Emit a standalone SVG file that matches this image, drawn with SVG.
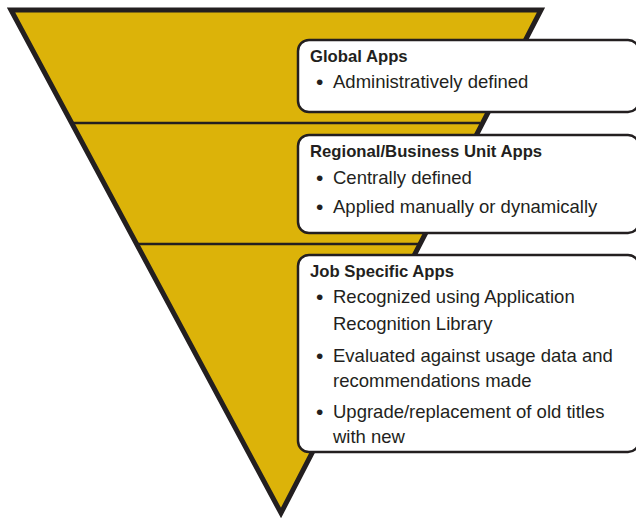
<svg xmlns="http://www.w3.org/2000/svg" width="636" height="519" viewBox="0 0 636 519">
<style>
.tri{fill:#dcb309;stroke:#231f20;stroke-width:5;stroke-linejoin:miter}
.div{stroke:#231f20;stroke-width:2.5}
.box{fill:#fff;stroke:#231f20;stroke-width:2.5}
.t{font-family:"Liberation Sans",Arial,sans-serif;font-size:18.5px;fill:#231f20}
.h{font-weight:bold;font-size:16.7px}
.b{font-family:"Liberation Sans",Arial,sans-serif;font-size:21px;fill:#231f20}
</style>
<rect width="636" height="519" fill="#fff"/>
<g id="pyramid">
<polygon class="tri" points="11,10 541,10 281,513"/>
<line class="div" x1="72" y1="123" x2="480" y2="123"/>
<line class="div" x1="137" y1="244" x2="420" y2="244"/>
</g>
<g id="global">
<rect class="box" x="298" y="40" width="341" height="72" rx="11"/>
<text class="t h" x="310" y="62">Global Apps</text>
<text class="b" x="316" y="89">•</text>
<text class="t" x="333" y="88">Administratively defined</text>
</g>
<g id="regional">
<rect class="box" x="298" y="135" width="341" height="98" rx="11"/>
<text class="t h" x="310" y="157">Regional/Business Unit Apps</text>
<text class="b" x="316" y="185">•</text>
<text class="t" x="333" y="184">Centrally defined</text>
<text class="b" x="316" y="214">•</text>
<text class="t" x="333" y="213">Applied manually or dynamically</text>
</g>
<g id="job">
<rect class="box" x="298" y="255" width="341" height="197" rx="11"/>
<text class="t h" x="310" y="277">Job Specific Apps</text>
<text class="b" x="316" y="304">•</text>
<text class="t" x="333" y="303">Recognized using Application</text>
<text class="t" x="333" y="330">Recognition Library</text>
<text class="b" x="316" y="363">•</text>
<text class="t" x="333" y="362">Evaluated against usage data and</text>
<text class="t" x="333" y="387">recommendations made</text>
<text class="b" x="316" y="419">•</text>
<text class="t" x="333" y="418">Upgrade/replacement of old titles</text>
<text class="t" x="333" y="443">with new</text>
</g>
</svg>
